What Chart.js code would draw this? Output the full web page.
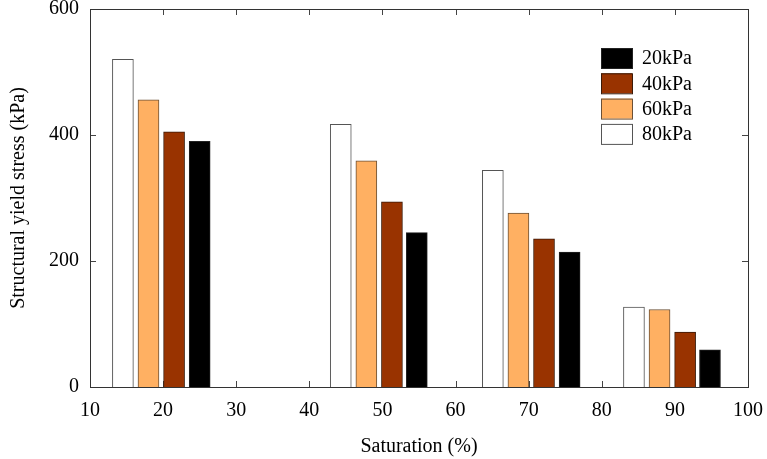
<!DOCTYPE html>
<html>
<head>
<meta charset="utf-8">
<script src="https://cdn.jsdelivr.net/npm/chart.js@4/dist/chart.umd.min.js"></script>
<style>
  html, body { margin: 0; padding: 0; background: #fff; }
  #wrap { width: 767px; height: 459px; }
</style>
</head>
<body>
<div id="wrap"><canvas id="c"></canvas></div>
<script>
// saturation (%) where each bar sits, and yield stress (kPa)
var labels = ['20kPa', '40kPa', '60kPa', '80kPa']
var sat_20 = [25.0, 54.7, 75.6, 94.8]
var sat_40 = [21.5, 51.3, 72.1, 91.4]
var sat_60 = [18.0, 47.8, 68.6, 87.9]
var sat_80 = [14.5, 44.3, 65.1, 84.4]
var stress_20 = [390, 245, 214, 59]
var stress_40 = [405, 294, 235, 87]
var stress_60 = [456, 359, 276, 123]
var stress_80 = [520, 417, 344, 127]
var x_ticks = [10, 20, 30, 40, 50, 60, 70, 80, 90, 100]
var y_ticks = [0, 200, 400, 600]

var FONT = '"Liberation Serif", "Times New Roman", serif'

function pts(xs, ys){
  var out = []
  for(let i=0; i<xs.length; i++){
    out.push({x: xs[i], y: ys[i]})
  }
  return out
}

// inward ticks + full frame, like the original plot
var frame = {
  id: 'frame',
  beforeDatasetsDraw(chart){
    const ctx = chart.ctx, a = chart.chartArea
    const sx = chart.scales.x, sy = chart.scales.y
    ctx.save()
    ctx.strokeStyle = '#444'
    ctx.lineWidth = 1
    ctx.beginPath()
    x_ticks.forEach(function(v){
      const px = Math.round(sx.getPixelForValue(v)) + 0.5
      ctx.moveTo(px, a.bottom); ctx.lineTo(px, a.bottom - 6)
      ctx.moveTo(px, a.top); ctx.lineTo(px, a.top + 6)
    })
    y_ticks.forEach(function(v){
      const py = Math.round(sy.getPixelForValue(v)) + 0.5
      ctx.moveTo(a.left, py); ctx.lineTo(a.left + 6, py)
      ctx.moveTo(a.right, py); ctx.lineTo(a.right - 6, py)
    })
    ctx.stroke()
    ctx.restore()
  },
  afterDatasetsDraw(chart){
    const ctx = chart.ctx, a = chart.chartArea
    ctx.save()
    ctx.strokeStyle = '#333'
    ctx.lineWidth = 1
    ctx.strokeRect(Math.round(a.left) + 0.5, Math.round(a.top) + 0.5,
                   Math.round(a.right - a.left), Math.round(a.bottom - a.top))
    ctx.restore()
  }
}

// legend drawn inside the plot, top right
var boxLegend = {
  id: 'boxLegend',
  afterDraw(chart){
    const ctx = chart.ctx
    ctx.save()
    ctx.font = '20px ' + FONT
    ctx.textBaseline = 'middle'
    chart.data.datasets.forEach(function(ds, i){
      const y = 48 + i * 25.3
      ctx.fillStyle = ds.backgroundColor
      ctx.fillRect(601, y, 31, 20)
      ctx.strokeStyle = ds.borderColor
      ctx.lineWidth = 1
      ctx.strokeRect(601.5, y + 0.5, 31, 20)
      ctx.fillStyle = '#000'
      ctx.fillText(ds.label, 642, y + 11)
    })
    ctx.restore()
  }
}

const ctx = document.getElementById('c').getContext('2d')
const myChart = new Chart(ctx, {
  type: 'bar',
  data: {
    datasets: [{
      label: labels[0],
      data: pts(sat_20, stress_20),
      backgroundColor: '#000000',
      borderColor: '#222222',
    },{
      label: labels[1],
      data: pts(sat_40, stress_40),
      backgroundColor: '#993300',
      borderColor: '#3a1a08',
    },{
      label: labels[2],
      data: pts(sat_60, stress_60),
      backgroundColor: '#ffb062',
      borderColor: '#6b5036',
    },{
      label: labels[3],
      data: pts(sat_80, stress_80),
      backgroundColor: '#ffffff',
      borderColor: '#555555',
    }]
  },
  options: {
    responsive: true,
    maintainAspectRatio: false,
    animation: false,
    grouped: false,
    barThickness: 21,
    borderWidth: 1,
    layout: { padding: { left: 0, right: 19, top: 9, bottom: 0 } },
    plugins: {
      legend: { display: false },
      tooltip: { enabled: false }
    },
    scales: {
      x: {
        type: 'linear',
        min: 10,
        max: 100,
        offset: false,
        afterBuildTicks: function(s){ s.ticks = x_ticks.map(function(v){ return {value: v} }) },
        afterFit: function(s){ s.height = 72; s.paddingLeft = 0; s.paddingRight = 0 },
        grid: { display: false, drawTicks: false, offset: false },
        border: { display: false },
        ticks: { color: '#000', padding: 12, maxRotation: 0, font: { family: FONT, size: 20 } },
        title: {
          display: true, text: 'Saturation (%)', color: '#000',
          padding: { top: 9, bottom: 0 },
          font: { family: FONT, size: 20 }
        }
      },
      y: {
        min: 0,
        max: 600,
        afterBuildTicks: function(s){ s.ticks = y_ticks.map(function(v){ return {value: v} }) },
        afterFit: function(s){ s.width = 90; s.paddingTop = 0; s.paddingBottom = 0 },
        grid: { display: false, drawTicks: false },
        border: { display: false },
        ticks: { color: '#000', padding: 11, font: { family: FONT, size: 20 } },
        title: {
          display: true, text: 'Structural yield stress (kPa)', color: '#000',
          padding: { top: 7, bottom: 0 },
          font: { family: FONT, size: 20 }
        }
      }
    }
  },
  plugins: [frame, boxLegend]
})
</script>
</body>
</html>
